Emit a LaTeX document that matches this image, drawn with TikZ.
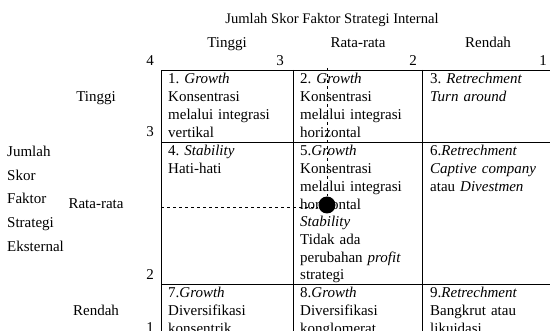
\documentclass[tikz,border=0pt]{standalone}
\usepackage{fontspec}
\setmainfont{Liberation Serif}
\newcommand\jline[1]{\makebox[118pt][s]{#1}}
\begin{document}
\frenchspacing
\begin{tikzpicture}[x=1pt,y=-1pt,
  every node/.style={font=\fontsize{15}{17.7}\selectfont\frenchspacing, inner sep=0pt},
  cell/.style={anchor=base west, text width=118pt, align=left},
  lbl/.style={anchor=base},
  side/.style={anchor=base west},
  grid/.style={line width=0.8pt},
  guide/.style={dashed, line width=0.8pt}]
\useasboundingbox (0,0) rectangle (550,331);
\fill[white] (0,0) rectangle (550,331);
\clip (0,0) rectangle (550,331);
% table frame
\draw[grid] (161,70) rectangle (553,345);
\draw[grid] (161,142) -- (553,142);
\draw[grid] (161,284) -- (553,284);
\draw[grid] (293,70) -- (293,345);
\draw[grid] (422,70) -- (422,345);
% headings
\node[lbl, font=\fontsize{14.6}{17.7}\selectfont] (title) at (332,24) {Jumlah Skor Faktor Strategi Internal};
\node[lbl] (hT) at (227,48) {Tinggi};
\node[lbl] (hR) at (358,48) {Rata-rata};
\node[lbl] (hD) at (488,48) {Rendah};
\node[lbl] (n4) at (150,66) {4};
\node[lbl] (n3) at (280,66) {3};
\node[lbl] (n2) at (413,66) {2};
\node[lbl] (n1) at (543,66) {1};
\node[lbl] (rT) at (96,102) {Tinggi};
\node[lbl] (rR) at (96,209) {Rata-rata};
\node[lbl] (rD) at (96,316) {Rendah};
\node[lbl] (m3) at (150,137) {3};
\node[lbl] (m2) at (150,280) {2};
\node[lbl] (m1) at (150,333) {1};
\node[side] (s1) at (7,157) {Jumlah};
\node[side] (s2) at (7,181) {Skor};
\node[side] (s3) at (7,204) {Faktor};
\node[side] (s4) at (7,228) {Strategi};
\node[side] (s5) at (7,252) {Eksternal};
% cells
\node[cell] (c1) at (168,84) {1. \textit{Growth}\\Konsentrasi\\\jline{melalui integrasi}\\vertikal};
\node[cell] (c2) at (300,84) {2. \textit{Growth}\\Konsentrasi\\\jline{melalui integrasi}\\horizontal};
\node[cell] (c3) at (430,84) {3. \textit{Retrechment}\\\textit{Turn around}};
\node[cell] (c4) at (168,156) {4. \textit{Stability}\\Hati-hati};
\node[cell] (c5) at (300,156) {5.\textit{Growth}\\Konsentrasi\\\jline{melalui integrasi}\\horizontal\\\textit{Stability}\\\jline{Tidak ada}\\\jline{perubahan \textit{profit}}\\strategi};
\node[cell] (c6) at (430,156) {6.\textit{Retrechment}\\\jline{\textit{Captive company}}\\atau \textit{Divestmen}};
\node[cell] (c7) at (168,298) {7.\textit{Growth}\\Diversifikasi\\konsentrik};
\node[cell] (c8) at (300,298) {8.\textit{Growth}\\Diversifikasi\\konglomerat};
\node[cell] (c9) at (430,298) {9.\textit{Retrechment}\\\jline{Bangkrut atau}\\likuidasi};
% position marker
\node[circle, fill=black, minimum size=17pt] (dot) at (327,205) {};
\coordinate (vtop) at (327,68);
\coordinate (hleft) at (161,207);
\draw[guide] (vtop) -- (dot);
\draw[guide] (hleft) -- (hleft -| dot.west);
\end{tikzpicture}
\end{document}
